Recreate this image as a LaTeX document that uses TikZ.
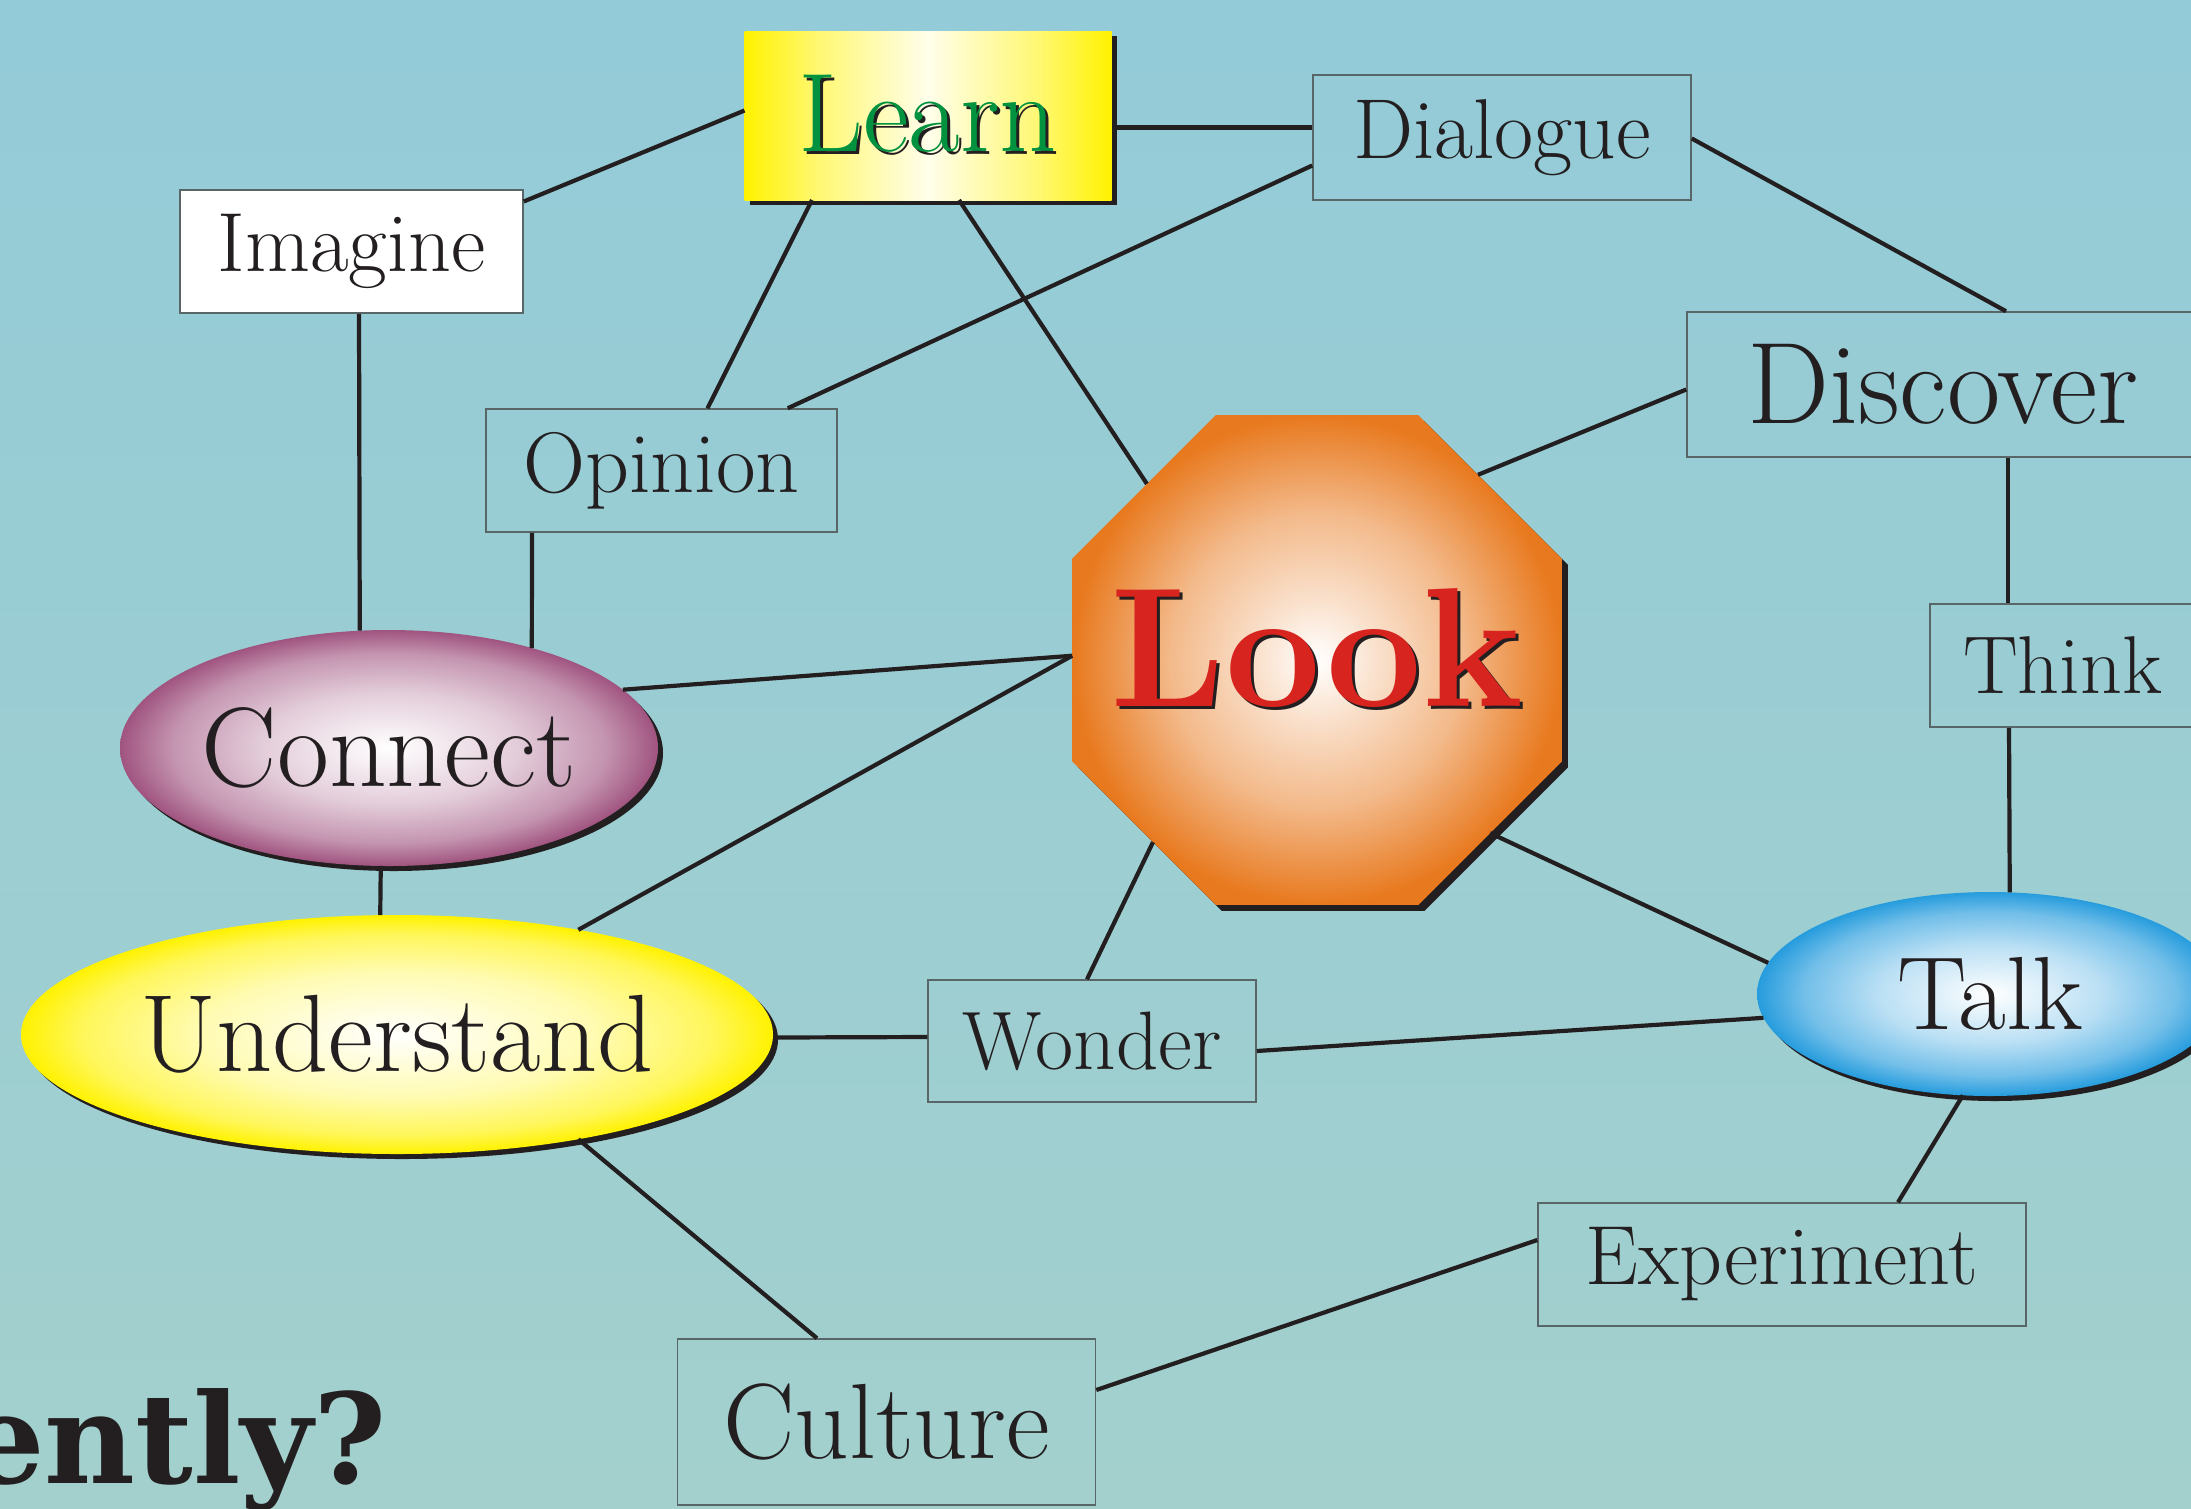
\documentclass[tikz,border=0pt]{standalone}
\usepackage{fontspec}
\newfontfamily\slabfont{DejaVu Serif}
\usetikzlibrary{shapes.geometric,shadows}

\definecolor{bgtop}{RGB}{147,203,216}
\definecolor{bgbot}{RGB}{163,208,205}
\definecolor{ink}{RGB}{35,31,32}
\definecolor{boxline}{RGB}{88,102,104}
\definecolor{learngreen}{RGB}{0,146,63}
\definecolor{lookred}{RGB}{215,36,30}
\definecolor{lookorange}{RGB}{232,121,30}
\definecolor{connectpurple}{RGB}{160,84,128}
\definecolor{talkblue}{RGB}{38,156,221}
\definecolor{brightyellow}{RGB}{255,242,0}

\pgfdeclarehorizontalshading{learnshade}{100bp}{color(0bp)=(brightyellow); color(25bp)=(brightyellow); color(35bp)=(brightyellow!55!white); color(50bp)=(brightyellow!8!white); color(65bp)=(brightyellow!55!white); color(75bp)=(brightyellow); color(100bp)=(brightyellow)}
\pgfdeclareradialshading{lookshade}{\pgfpoint{0bp}{0bp}}{color(0bp)=(white); color(6bp)=(lookorange!22!white); color(15bp)=(lookorange!52!white); color(25bp)=(lookorange); color(50bp)=(lookorange)}
\pgfdeclareradialshading{connectshade}{\pgfpoint{0bp}{0bp}}{color(0bp)=(white); color(12bp)=(connectpurple!30!white); color(20bp)=(connectpurple!62!white); color(25bp)=(connectpurple); color(50bp)=(connectpurple)}
\pgfdeclareradialshading{understandshade}{\pgfpoint{0bp}{0bp}}{color(0bp)=(white); color(13bp)=(brightyellow!30!white); color(21bp)=(brightyellow!65!white); color(25bp)=(brightyellow); color(50bp)=(brightyellow)}
\pgfdeclareradialshading{talkshade}{\pgfpoint{0bp}{0bp}}{color(0bp)=(white); color(12bp)=(talkblue!32!white); color(20bp)=(talkblue!65!white); color(25bp)=(talkblue); color(50bp)=(talkblue)}

\newcommand{\castword}[2]{\makebox[0pt]{\makebox[0pt]{\kern6pt\raisebox{-3pt}{\color{ink}#2}}\makebox[0pt]{\color{#1}#2}}}

\tikzset{
  link/.style={ink, line width=4.2pt},
  wordbox/.style={rectangle, draw=boxline, line width=1.5pt, inner sep=0pt, text=ink},
  bubble/.style={ellipse, shade, inner sep=0pt, outer sep=0pt, text=ink,
    drop shadow={shadow xshift=5pt, shadow yshift=-5pt, opacity=1, fill=ink}},
  learnbox/.style={rectangle, shade, shading=learnshade, inner sep=0pt, outer sep=0pt,
    minimum width=367, minimum height=169,
    drop shadow={shadow xshift=5pt, shadow yshift=-5pt, opacity=1, fill=ink}},
  octagon/.style={regular polygon, regular polygon sides=8, minimum size=530,
    inner sep=0pt, outer sep=0pt, shade, shading=lookshade,
    drop shadow={shadow xshift=6pt, shadow yshift=-6pt, opacity=1, fill=ink}}
}

\begin{document}
\begin{tikzpicture}[x=1pt,y=-1pt]
\useasboundingbox (0,0) rectangle (2191,1508);
\clip (0,0) rectangle (2191,1508);
\shade[top color=bgtop, bottom color=bgbot] (0,0) rectangle (2191,1508);

\node[wordbox, fill=white, minimum width=343, minimum height=123, font=\fontsize{84}{90}\selectfont] (imagine) at (351.5,251.5) {Imagine};
\node[learnbox, font=\fontsize{112}{120}\selectfont] (learn) at (928,115.5) {\castword{learngreen}{Learn}};
\node[wordbox, minimum width=378, minimum height=125, font=\fontsize{85}{90}\selectfont] (dialogue) at (1502,137.5) {Dialogue};
\node[wordbox, minimum width=512, minimum height=145, font=\fontsize{116}{120}\selectfont] (discover) at (1943,384.5) {Discover};
\node[wordbox, minimum width=351, minimum height=123, font=\fontsize{86}{90}\selectfont] (opinion) at (661.5,470.5) {Opinion};
\node[wordbox, minimum width=265, minimum height=123, font=\fontsize{82}{90}\selectfont] (think) at (2062.5,665.5) {Think};
\node[wordbox, minimum width=328, minimum height=122, font=\fontsize{83}{90}\selectfont] (wonder) at (1092,1041) {Wonder};
\node[wordbox, minimum width=488, minimum height=123, font=\fontsize{84}{90}\selectfont] (experiment) at (1782,1264.5) {Experiment};
\node[wordbox, minimum width=418, minimum height=166, font=\fontsize{107}{110}\selectfont] (culture) at (886.5,1422) {Culture};
\node[octagon, text height=92pt, text depth=0pt, font=\fontsize{170}{180}\selectfont] (look) at (1317,660) {\castword{lookred}{\bfseries Look}};
\node[bubble, shading=connectshade, minimum width=538, minimum height=236, font=\fontsize{113}{120}\selectfont] (connect) at (389,748) {\makebox[0pt]{Connect}};
\node[bubble, shading=understandshade, minimum width=752, minimum height=239, font=\fontsize{110}{120}\selectfont] (understand) at (397,1034.5) {\makebox[0pt]{Understand}};
\node[bubble, shading=talkshade, minimum width=466, minimum height=204, font=\fontsize{104}{110}\selectfont] (talk) at (1990,994) {\makebox[0pt]{Talk}};
\node[anchor=base east, inner sep=0pt, text=ink, font={\slabfont\bfseries\fontsize{125}{130}\selectfont}] (tagline) at (387,1483) {ently?};

\draw[link] ([yshift=50]imagine.east) -- ([yshift=5]learn.west);
\draw[link] ([yshift=-12]learn.east) -- ([yshift=10]dialogue.west);
\draw[link] ([xshift=-116]learn.south) -- ([xshift=46]opinion.north);
\draw[link] ([xshift=31]learn.south) -- (look.134);
\draw[link] ([yshift=-28]dialogue.west) -- ([xshift=-50]opinion.north east);
\draw[link] ([yshift=-1]dialogue.east) -- ([xshift=63]discover.north);
\draw[link] ([yshift=-5]discover.west) -- (look.49);
\draw[link] ([xshift=65]discover.south) -- ([xshift=-54.5]think.north);
\draw[link] ([xshift=-53.5]think.south) -- (talk.79);
\draw[link] ([xshift=7.5]imagine.south) -- (connect.104);
\draw[link] ([xshift=-129.5]opinion.south) -- (connect.35);
\draw[link] (connect.14) -- (look.179);
\draw[link] (look.179) -- (understand.30);
\draw[link] (connect.266) -- (understand.98);
\draw[link] ([yshift=-3]understand.east) -- ([yshift=4]wonder.west);
\draw[link] (look.228) -- ([xshift=-5]wonder.north);
\draw[link] ([yshift=-10]wonder.east) -- (talk.186);
\draw[link] (look.315) -- (talk.172);
\draw[link] (talk.255) -- ([xshift=116]experiment.north);
\draw[link] (understand.330) -- ([xshift=-69.5]culture.north);
\draw[link] ([yshift=32]culture.east) -- ([yshift=24.5]experiment.west);
\end{tikzpicture}
\end{document}
